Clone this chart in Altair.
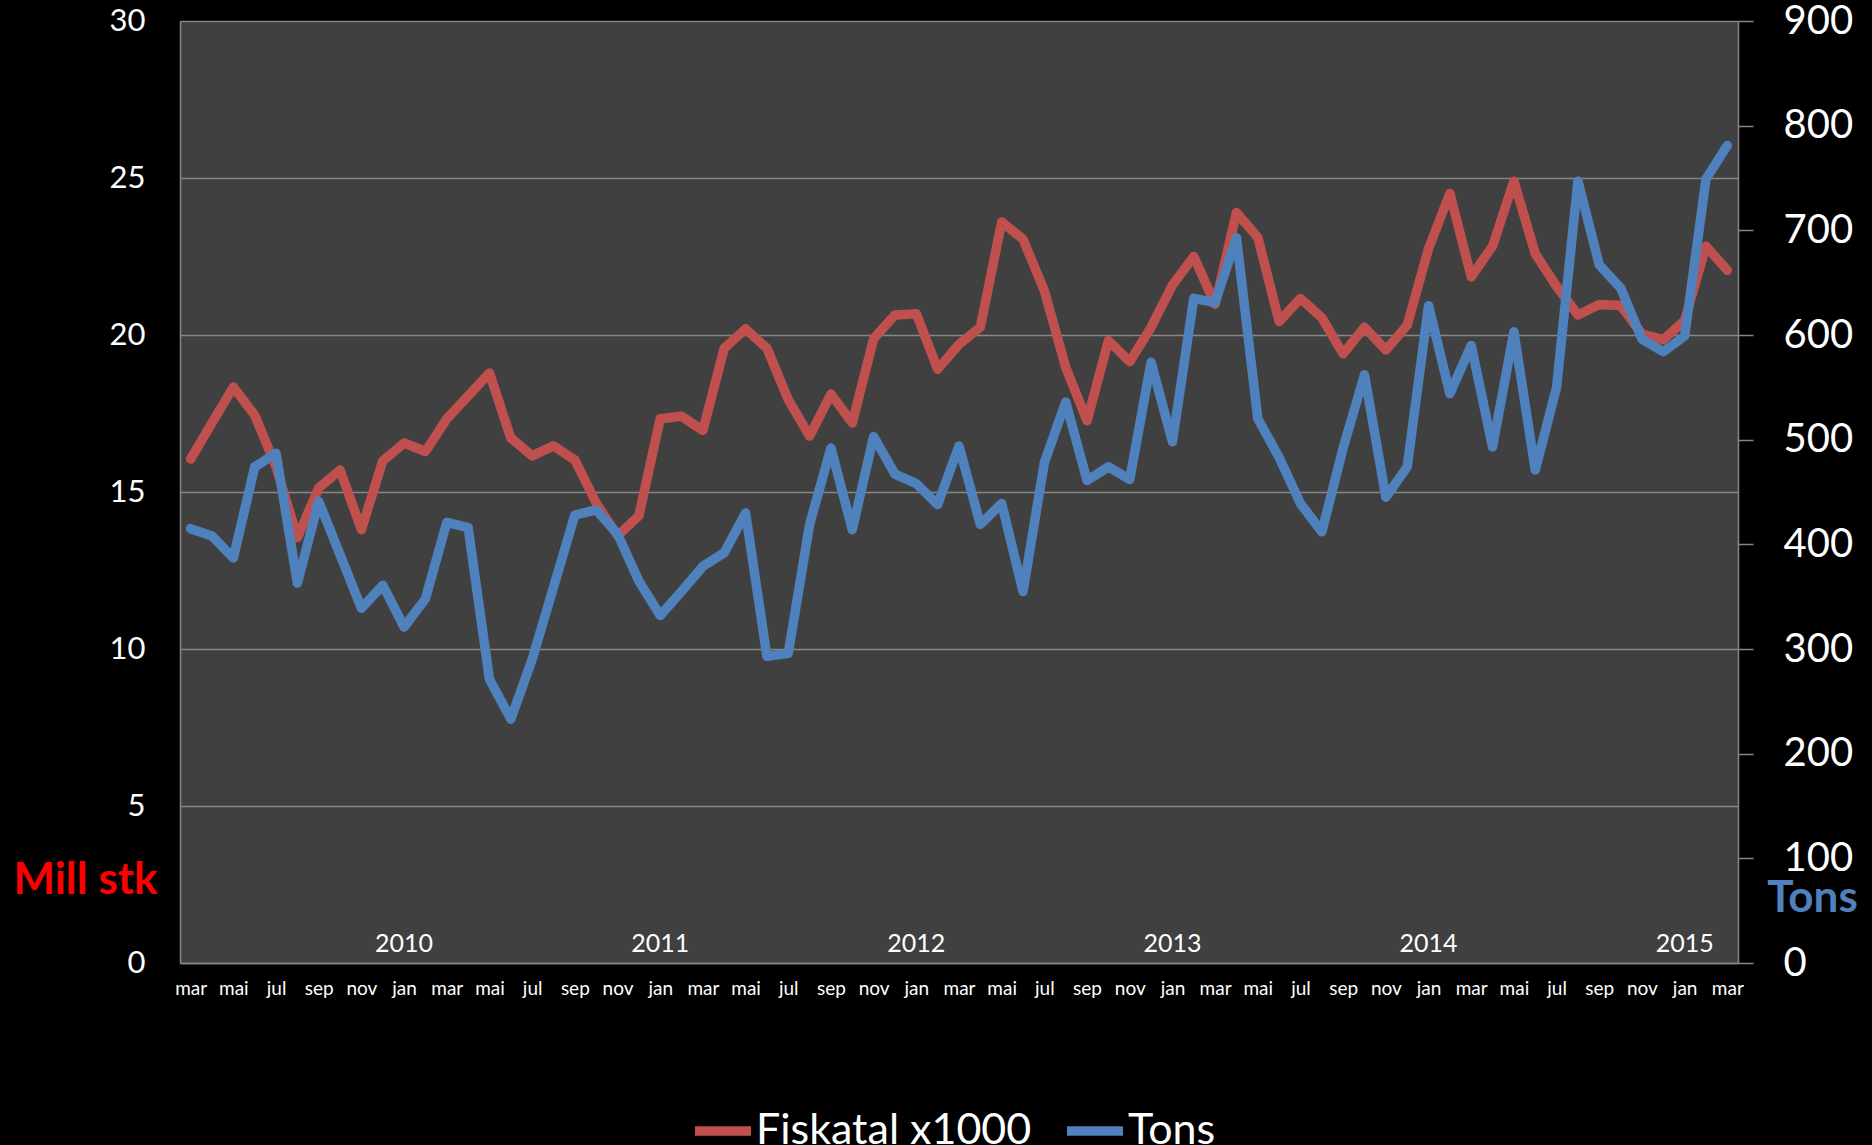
import altair as alt
import pandas as pd

# ---- data ----
month_names = ["jan", "feb", "mar", "apr", "mai", "jun", "jul", "aug", "sep", "okt", "nov", "des"]
start_month = 2  # first point is mar 2009

fiskatal = [16.05, 17.2, 18.34, 17.45, 15.8, 13.55, 15.13, 15.7, 13.8, 15.99, 16.56, 16.29,
            17.33, 18.06, 18.79, 16.72, 16.15, 16.47, 16.02, 14.65, 13.61, 14.24, 17.33, 17.41,
            16.96, 19.58, 20.19, 19.58, 17.94, 16.78, 18.12, 17.2, 19.88, 20.64, 20.68, 18.91,
            19.7, 20.25, 23.6, 23.05, 21.41, 18.97, 17.27, 19.82, 19.15, 20.25, 21.59, 22.5,
            20.98, 23.9, 23.11, 20.43, 21.16, 20.55, 19.4, 20.25, 19.52, 20.31, 22.75, 24.51,
            21.85, 22.83, 24.9, 22.59, 21.55, 20.64, 20.97, 20.94, 20.03, 19.85, 20.46, 22.83, 22.06]

tons = [415, 408, 387, 474, 487, 363, 441, 390, 339, 361, 321, 348,
        421, 416, 271, 233, 290, 359, 428, 433, 410, 365, 332, 355,
        379, 392, 430, 293, 296, 419, 492, 414, 503, 467, 458, 438,
        494, 419, 439, 355, 478, 536, 461, 474, 462, 574, 498, 635,
        631, 693, 520, 483, 439, 412, 492, 562, 445, 474, 628, 544,
        590, 493, 603, 471, 550, 747, 667, 645, 596, 584, 599, 749, 781]

year_labels = ["2010", "2011", "2012", "2013", "2014", "2015"]
year_index = [10, 22, 34, 46, 58, 70]

series_names = ["Fiskatal x1000", "Tons"]
left_ticks = [0, 5, 10, 15, 20, 25, 30]
right_ticks = [0, 100, 200, 300, 400, 500, 600, 700, 800, 900]

# ---- styling ----
RED = "#C0504D"
BLUE = "#4F81BD"
GRID = "#868686"
FONT = "Lato"
LINE_W = 9.5

n = len(fiskatal)
df_red = pd.DataFrame({"i": list(range(n)), "series": series_names[0], "value": fiskatal})
df_blue = pd.DataFrame({"i": list(range(n)), "series": series_names[1], "value": tons})
df_years = pd.DataFrame({"i": year_index, "label": year_labels})

month_js = "[" + ",".join("'" + m + "'" for m in month_names) + "]"
label_expr = f"{month_js}[(datum.value + {start_month}) % 12]"


def make_chart(margin):
    x_scale = alt.Scale(type="point", padding=0.5)
    x_axis = alt.Axis(values=list(range(0, n, 2)), labelExpr=label_expr,
                      labelAngle=0, labelFontSize=19, labelColor="white",
                      ticks=False, tickSize=0, labelPadding=16, grid=False,
                      title=None, domainColor=GRID, domainWidth=1.5, labelOverlap=False)
    x_main = alt.X("i:O", scale=x_scale, axis=x_axis)

    color_scale = alt.Scale(domain=series_names, range=[RED, BLUE])
    legend = alt.Legend(orient="none", legendX=510, legendY=1077,
                        direction="horizontal", title=None,
                        symbolType="stroke", symbolStrokeWidth=LINE_W,
                        symbolSize=3136, labelFontSize=43,
                        labelColor="white", labelFont=FONT, labelLimit=0,
                        labelOffset=0, columnPadding=16, padding=0)

    red = alt.Chart(df_red).mark_line(strokeWidth=LINE_W, strokeCap="round",
                                      strokeJoin="round").encode(
        x=x_main,
        y=alt.Y("value:Q", scale=alt.Scale(domain=[0, 30], nice=False, zero=True),
                axis=alt.Axis(values=left_ticks, grid=True, gridColor=GRID, gridWidth=1.3,
                              ticks=False, tickSize=0, labelFontSize=31, labelColor="white",
                              labelPadding=35, domainColor=GRID, domainWidth=1.5,
                              title="Mill stk", titleAngle=0, titleX=-95, titleY=872,
                              titleAlign="center", titleBaseline="alphabetic",
                              titleColor="#FF0000", titleFontSize=44,
                              titleFontWeight="bold", titleFont=FONT)),
        color=alt.Color("series:N", scale=color_scale, legend=legend),
    )

    blue = alt.Chart(df_blue).mark_line(strokeWidth=LINE_W, strokeCap="round",
                                        strokeJoin="round").encode(
        x=x_main,
        y=alt.Y("value:Q", scale=alt.Scale(domain=[0, 900], nice=False, zero=True),
                axis=alt.Axis(orient="right", values=right_ticks, grid=False, ticks=True,
                              tickSize=15, tickColor=GRID, tickWidth=1.5, labelFontSize=40,
                              labelColor="white", labelPadding=30, domainColor=GRID,
                              domainWidth=1.5, title="Tons", titleAngle=0, titleX=74,
                              titleY=890, titleAlign="center", titleBaseline="alphabetic",
                              titleColor=BLUE, titleFontSize=44, titleFontWeight="bold",
                              titleFont=FONT)),
        color=alt.Color("series:N", scale=color_scale, legend=legend),
    )

    years = alt.Chart(df_years).mark_text(fontSize=25, color="white", font=FONT,
                                          baseline="middle", align="center").encode(
        x=x_main,
        y=alt.value(923),
        text="label:N",
    )

    return alt.layer(red, blue, years).resolve_scale(y="independent").properties(
        width=1558, height=942,
        padding={"left": 180 - margin, "top": 21 - margin,
                 "right": 133 - margin, "bottom": 183 - 2 * margin},
        autosize=alt.AutoSizeParams(type="none"),
        background="black",
    ).configure_view(fill="#404040", stroke=None).configure_axis(labelFont=FONT,
                                                                  titleFont=FONT)


class BlackPageTemplate:
    """Standard Altair page, with a black, margin-free body."""

    def render(self, **kw):
        from altair.utils import html as alt_html
        base = getattr(alt_html, "TEMPLATES", {}).get("standard", alt_html.HTML_TEMPLATE)
        page = base.render(**kw)
        css = "html, body { margin: 0; padding: 0; background: #000; overflow: hidden; }\n"
        return page.replace("<style>", "<style>\n" + css, 1)


try:
    chart = make_chart(0)
    chart.save("out.html", embed_options={"renderer": "svg", "actions": False},
               template=BlackPageTemplate())
except Exception:
    chart = make_chart(8)
    chart.save("out.html", embed_options={"renderer": "svg", "actions": False})
